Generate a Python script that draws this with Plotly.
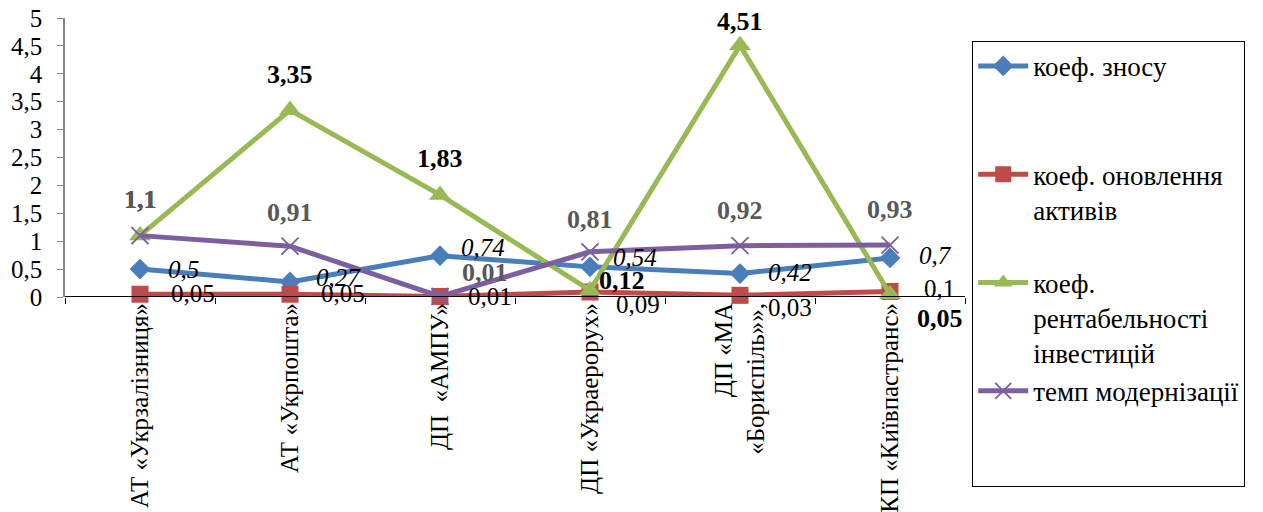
import plotly.graph_objects as go

categories = ["АТ «Укрзалізниця»", "АТ «Укрпошта»", "ДП  «АМПУ»",
              "ДП «Украерорух»", "ДП «МА<br>«Бориспіль»»,", "КП «Київпастранс»"]
series_names = ["коеф. зносу<br> <br> ", "коеф. оновлення<br>активів<br> ",
                "коеф.<br>рентабельності<br>інвестицій", "темп модернізації<br> <br> "]
wear = [0.5, 0.27, 0.74, 0.54, 0.42, 0.7]
renewal = [0.05, 0.05, 0.01, 0.09, 0.03, 0.1]
profit = [1.1, 3.35, 1.83, 0.12, 4.51, 0.05]
modern = [1.1, 0.91, 0.01, 0.81, 0.92, 0.93]
y_ticks = [0, 0.5, 1, 1.5, 2, 2.5, 3, 3.5, 4, 4.5, 5]

FONT = "Liberation Serif"
colors = ["#4A7EBB", "#BE4B48", "#98B954", "#7D5FA0"]
symbols = ["diamond", "square", "triangle-up", "x-thin-open"]
msizes = [16, 17, 19, 17]
all_series = [wear, renewal, profit, modern]

fig = go.Figure()
for i, (vals, name) in enumerate(zip(all_series, series_names)):
    marker = dict(symbol=symbols[i], size=msizes[i], color=colors[i])
    if symbols[i] == "x-thin-open":
        marker["line"] = dict(color=colors[i], width=1.8)
    fig.add_trace(go.Scatter(
        x=categories, y=vals, name=name, mode="lines+markers",
        line=dict(color=colors[i], width=5), marker=marker,
        legendgroup=f"g{i}", cliponaxis=False))

# label styles (position offsets in px, anchor, font)
label_styles = [
    dict(vals=wear, fmt=dict(color="black", style="italic", weight="normal", size=25),
         xanchor="left", shifts=[(26, 0), (24, 4), (19, 8), (21, 9), (26, 1), (27, 2)]),
    dict(vals=renewal, fmt=dict(color="black", style="normal", weight="normal", size=25),
         xanchor="left", shifts=[(29, 1), (29, 1), (26, 0), (24, -13), (26, -12), (32, 3)]),
    dict(vals=profit, fmt=dict(color="black", style="normal", weight="bold", size=26),
         xanchor="center", shifts=[(0, 36), (0, 36), (0, 36), (32, 10), (0, 24), (50, -24)]),
    dict(vals=modern, fmt=dict(color="#595959", style="normal", weight="bold", size=26),
         xanchor="center", shifts=[(0, 36), (0, 34), (45, 24), (0, 32), (0, 35), (0, 36)]),
]
for st in label_styles:
    for cat, v, (dx, dy) in zip(categories, st["vals"], st["shifts"]):
        fig.add_annotation(
            x=cat, y=v, xref="x", yref="y", text=f"{v:g}".replace(".", ","),
            showarrow=False, xanchor=st["xanchor"], yanchor="middle",
            xshift=dx, yshift=dy,
            font=dict(family=FONT, size=st["fmt"]["size"], color=st["fmt"]["color"],
                      style=st["fmt"]["style"], weight=st["fmt"]["weight"]))

# page body adds ~8px offset; compensate in size and margins
fig.update_layout(
    width=1255, height=504,
    margin=dict(l=57, r=298, t=10, b=215),
    paper_bgcolor="white", plot_bgcolor="white",
    separators=", ",
    font=dict(family=FONT, size=22, color="black"),
    showlegend=True,
    legend=dict(x=1.008, y=0.918, xanchor="left", yanchor="top",
                bordercolor="black", borderwidth=1, bgcolor="white",
                traceorder="grouped", tracegroupgap=0, valign="top",
                itemwidth=50, entrywidth=238, maxheight=700,
                font=dict(family=FONT, size=27, color="black")),
    xaxis=dict(type="category", showgrid=False, showline=False, zeroline=False,
               automargin=False,
               ticks="outside", tickson="boundaries", ticklen=6, tickcolor="black",
               tickangle=-90, tickfont=dict(family=FONT, size=25, color="black"),
               range=[-0.5, 5.5]),
    yaxis=dict(range=[0, 5], tickvals=y_ticks, showgrid=False, zeroline=False,
               automargin=False, ticklabeloverflow="allow",
               showline=True, linecolor="#868686", linewidth=1.5,
               ticks="outside", ticklen=6, tickcolor="#868686",
               ticklabelstandoff=10,
               tickfont=dict(family=FONT, size=25, color="black")),
)
# x axis baseline at y = 0
fig.add_hline(y=0, line=dict(color="black", width=2))

fig.write_html("out.html")
